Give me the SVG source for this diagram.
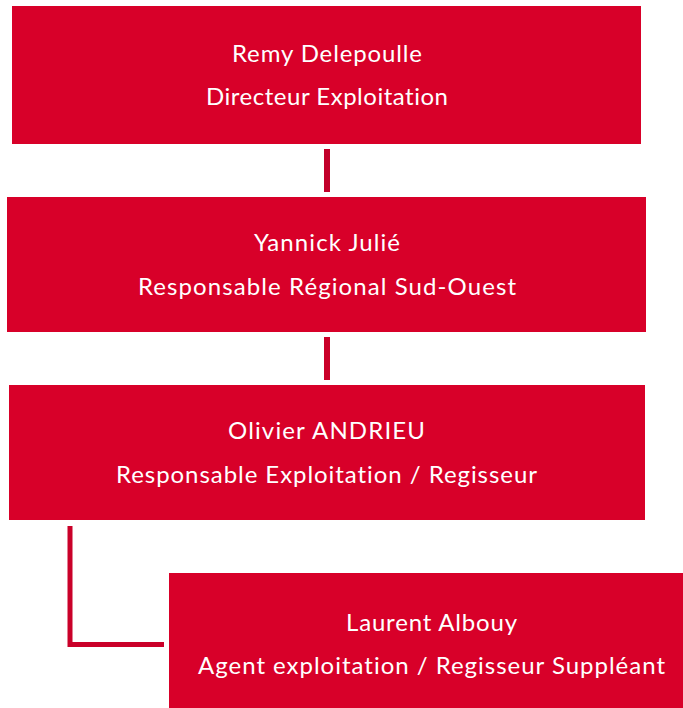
<svg xmlns="http://www.w3.org/2000/svg" width="683" height="708" viewBox="0 0 683 708">
<style>
.box{fill:#D80029}
.t{font-family:Lato,"Open Sans","Liberation Sans",sans-serif;font-size:24px;fill:#fff;text-anchor:middle;font-variant-ligatures:none}
.c{stroke:#CA0029;stroke-width:6;fill:none}
</style>
<rect width="683" height="708" fill="#fff"/>
<g id="connectors">
<line class="c" x1="327" y1="149" x2="327" y2="192" style="stroke:#C2002A"/>
<line class="c" x1="327" y1="337" x2="327" y2="380"/>
<polyline class="c" points="70,526 70,644.5 164,644.5" style="stroke-width:5"/>
</g>
<g id="n1">
<rect class="box" x="12" y="6" width="629" height="138"/>
<text class="t" x="327" y="62" textLength="190">Remy Delepoulle</text>
<text class="t" x="327" y="105" textLength="242">Directeur Exploitation</text>
</g>
<g id="n2">
<rect class="box" x="7" y="197" width="639" height="135"/>
<text class="t" x="327" y="251" textLength="146">Yannick Julié</text>
<text class="t" x="327" y="295" textLength="378">Responsable Régional Sud-Ouest</text>
</g>
<g id="n3">
<rect class="box" x="9" y="385" width="636" height="135"/>
<text class="t" x="326.5" y="439" textLength="197">Olivier ANDRIEU</text>
<text class="t" x="326.5" y="483" textLength="421">Responsable Exploitation / Regisseur</text>
</g>
<g id="n4">
<rect class="box" x="169" y="573" width="520" height="140"/>
<text class="t" x="431.5" y="631" textLength="171">Laurent Albouy</text>
<text class="t" x="431.5" y="674" textLength="467">Agent exploitation / Regisseur Suppléant</text>
</g>
</svg>
